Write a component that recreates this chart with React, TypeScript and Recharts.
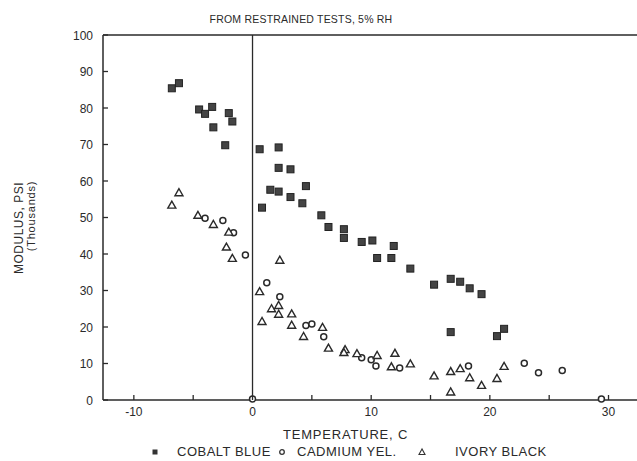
import { ScatterChart, Scatter, XAxis, YAxis, ReferenceLine } from 'recharts';

// temperature (C) / modulus (thousands psi)
const cobaltTemp = [-6.8, -6.2, -4.5, -4.0, -3.4, -3.3, -2.0, -1.7, -2.3, 0.6, 2.2, 2.2, 3.2, 1.5, 2.2, 3.2, 4.5, 4.2, 0.8, 5.8, 6.4, 7.7, 7.7, 9.2, 10.1, 11.9, 10.5, 11.7, 13.3, 15.3, 16.7, 17.5, 18.3, 19.3, 16.7, 20.6, 21.2];
const cobaltModulus = [85.4, 86.8, 79.6, 78.4, 80.3, 74.7, 78.6, 76.3, 69.8, 68.7, 69.2, 63.6, 63.2, 57.6, 57.1, 55.6, 58.6, 53.9, 52.7, 50.6, 47.4, 46.8, 44.4, 43.3, 43.7, 42.2, 38.9, 38.9, 36.0, 31.6, 33.2, 32.4, 30.6, 29.0, 18.6, 17.5, 19.5];

const cadmiumTemp = [-4.0, -2.5, -1.6, -0.6, 1.2, 2.3, 4.5, 5.0, 6.0, 9.2, 10.0, 10.4, 12.4, 18.2, 22.9, 24.1, 26.1, 0, 29.4];
const cadmiumModulus = [49.8, 49.2, 45.8, 39.7, 32.1, 28.3, 20.4, 20.8, 17.3, 11.6, 11.0, 9.3, 8.8, 9.3, 10.1, 7.5, 8.1, 0.3, 0.3];

const ivoryTemp = [-6.8, -6.2, -4.6, -3.3, -2.0, -2.2, -1.7, 2.3, 0.6, 1.6, 2.2, 2.2, 0.8, 3.3, 3.3, 5.9, 4.3, 6.4, 7.8, 7.7, 8.8, 10.5, 12.0, 11.7, 13.3, 15.3, 16.7, 17.5, 18.3, 16.7, 19.3, 20.6, 21.2];
const ivoryModulus = [53.4, 56.8, 50.6, 48.1, 46.0, 41.9, 38.8, 38.3, 29.7, 25.0, 25.9, 23.5, 21.5, 23.6, 20.5, 19.9, 17.4, 14.2, 13.8, 13.0, 12.7, 12.2, 12.8, 9.1, 9.9, 6.6, 7.8, 8.6, 6.1, 2.2, 4.0, 5.9, 9.2];

const xTicks = [-10, -5, 0, 5, 10, 15, 20, 25, 30];
const yTicks = [0, 10, 20, 30, 40, 50, 60, 70, 80, 90, 100];

const toPoints = (xs: number[], ys: number[]) => xs.map((x, i) => ({ x, y: ys[i] }));

const ink = '#2a2a2a';
const font = '"Liberation Sans", Arial, sans-serif';

const SquareMark = (p: any) => (
  <rect x={p.cx - 3.5} y={p.cy - 3.5} width={7} height={7} fill="#444" stroke="#222" strokeWidth={1} />
);
const CircleMark = (p: any) => (
  <circle cx={p.cx} cy={p.cy} r={3} fill="#fff" stroke={ink} strokeWidth={1.5} />
);
const TriangleMark = (p: any) => (
  <polygon
    points={`${p.cx},${p.cy - 4} ${p.cx - 4},${p.cy + 3} ${p.cx + 4},${p.cy + 3}`}
    fill="#fff"
    stroke={ink}
    strokeWidth={1.4}
  />
);

// ticks point into the plot, like the original
const YTick = (p: any) => (
  <g>
    <line x1={p.x + 10} x2={p.x + 15} y1={p.y} y2={p.y} stroke={ink} strokeWidth={1.3} />
    <text x={p.x} y={p.y} dy={4.5} textAnchor="end" fontSize={12} fill={ink} fontFamily={font}>
      {p.payload.value}
    </text>
  </g>
);
const XTick = (p: any) => {
  const v = p.payload.value;
  return (
    <g>
      <line x1={p.x} x2={p.x} y1={p.y - 5} y2={p.y - 10} stroke={ink} strokeWidth={1.3} />
      {v % 10 === 0 && (
        <text x={p.x} y={p.y} dy={11} textAnchor="middle" fontSize={12} fill={ink} fontFamily={font}>
          {v}
        </text>
      )}
    </g>
  );
};

export default function App() {
  const legendText = { position: 'absolute' as const, top: 445, fontSize: 13, lineHeight: '14px', letterSpacing: 0.5, whiteSpace: 'nowrap' as const };
  return (
    <div style={{ position: 'relative', width: 637, height: 461, fontFamily: font, color: ink, background: '#fff', overflow: 'hidden' }}>
      <style>{'body{margin:0}'}</style>
      <div style={{ position: 'absolute', top: 13, left: 201, width: 200, textAlign: 'center', fontSize: 10.5, lineHeight: '12px', letterSpacing: 0.2 }}>
        FROM RESTRAINED TESTS, 5% RH
      </div>
      <div
        style={{
          position: 'absolute',
          left: 19,
          top: 228,
          transform: 'translate(-50%, -50%) rotate(-90deg)',
          fontSize: 12,
          lineHeight: '12px',
          letterSpacing: 0.5,
          whiteSpace: 'nowrap',
        }}
      >
        MODULUS, PSI
      </div>
      <div
        style={{
          position: 'absolute',
          left: 31,
          top: 216,
          transform: 'translate(-50%, -50%) rotate(-90deg)',
          fontSize: 11,
          lineHeight: '11px',
          letterSpacing: 0.8,
          whiteSpace: 'nowrap',
        }}
      >
        (Thousands)
      </div>
      <ScatterChart width={637} height={461} margin={{ top: 35, right: 0, bottom: 0, left: 0 }}>
        <XAxis
          type="number"
          dataKey="x"
          domain={[-12.6, 32.4]}
          ticks={xTicks}
          height={61}
          tickSize={0}
          tickMargin={5}
          tickLine={false}
          tick={XTick}
          stroke={ink}
          strokeWidth={1.5}
          allowDataOverflow
        />
        <YAxis
          type="number"
          dataKey="y"
          domain={[0, 100]}
          ticks={yTicks}
          width={103}
          tickSize={0}
          tickMargin={10}
          tickLine={false}
          tick={YTick}
          stroke={ink}
          strokeWidth={1.5}
        />
        <ReferenceLine x={0} stroke={ink} strokeWidth={1.3} />
        <ReferenceLine y={100} stroke={ink} strokeWidth={1.3} />
        <Scatter name="COBALT BLUE" data={toPoints(cobaltTemp, cobaltModulus)} shape={SquareMark} isAnimationActive={false} />
        <Scatter name="CADMIUM YEL." data={toPoints(cadmiumTemp, cadmiumModulus)} shape={CircleMark} isAnimationActive={false} />
        <Scatter name="IVORY BLACK" data={toPoints(ivoryTemp, ivoryModulus)} shape={TriangleMark} isAnimationActive={false} />
      </ScatterChart>
      <div style={{ position: 'absolute', top: 428, left: 283, fontSize: 13, lineHeight: '14px', letterSpacing: 0.8, whiteSpace: 'nowrap' }}>
        TEMPERATURE, C
      </div>
      <svg width={637} height={12} style={{ position: 'absolute', top: 446, left: 0 }}>
        <rect x={152.5} y={3.5} width={5} height={5} fill="#333" />
        <circle cx={282} cy={6} r={2.3} fill="none" stroke="#333" strokeWidth={1.3} />
        <polygon points="422,3 419,8.5 425,8.5" fill="none" stroke="#333" strokeWidth={1.1} />
      </svg>
      <div style={{ ...legendText, left: 177 }}>COBALT BLUE</div>
      <div style={{ ...legendText, left: 297 }}>CADMIUM YEL.</div>
      <div style={{ ...legendText, left: 455 }}>IVORY BLACK</div>
    </div>
  );
}
